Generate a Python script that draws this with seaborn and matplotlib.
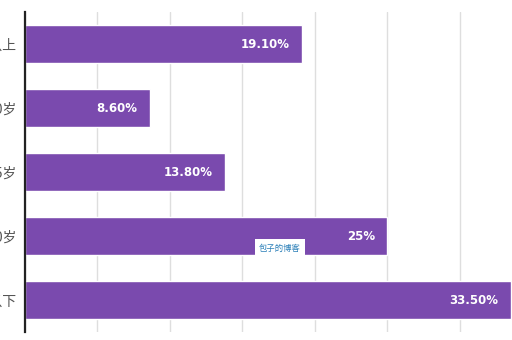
import matplotlib
matplotlib.use("Agg")
import matplotlib.pyplot as plt
import seaborn as sns
import pandas as pd

categories = ["40岁以上", "36-40岁", "31-35岁", "26-30岁", "25岁以下"]
values = [19.10, 8.60, 13.80, 25.00, 33.50]
value_labels = ["19.10%", "8.60%", "13.80%", "25%", "33.50%"]

sns.set_theme(style="white")
plt.rcParams['font.family'] = ['Noto Sans CJK SC', 'DejaVu Sans']

df = pd.DataFrame({"cat": categories, "val": values})

fig = plt.figure(figsize=(5.12, 3.4), dpi=100)
ax = fig.add_axes([25/512, 8/340, 487/512, 320/340])
sns.barplot(data=df, x="val", y="cat", orient="h", color="#7a4aae",
            saturation=1, width=0.6, ax=ax, zorder=2)

ax.set_xlim(0, 33.6)
ax.set_ylim(4.5, -0.5)
ax.set_xticks([0, 5, 10, 15, 20, 25, 30])
ax.set_xticklabels([])
ax.xaxis.grid(True, color="#dedede", linewidth=1, zorder=0)
ax.set_axisbelow(True)
ax.set_xlabel("")
ax.set_ylabel("")
for s in ["top", "right", "bottom"]:
    ax.spines[s].set_visible(False)
ax.spines["left"].set_color("#222222")
ax.spines["left"].set_linewidth(1.6)
ax.tick_params(axis="y", length=0, pad=6, labelsize=10, labelcolor="#555555")
ax.tick_params(axis="x", length=0)

for i, (v, lab) in enumerate(zip(values, value_labels)):
    ax.annotate(lab, xy=(v, i), xytext=(-9, 0), textcoords="offset points",
                ha="right", va="center", color="white", fontsize=8.5,
                fontweight="bold", family=["DejaVu Sans"])

fig.text(280/512, 1 - 248/340, "包子的博客", ha="center", va="center",
         fontsize=6, color="#2a7fb8",
         bbox=dict(facecolor="white", edgecolor="none", pad=3))

fig.savefig("out.png", dpi=100)
